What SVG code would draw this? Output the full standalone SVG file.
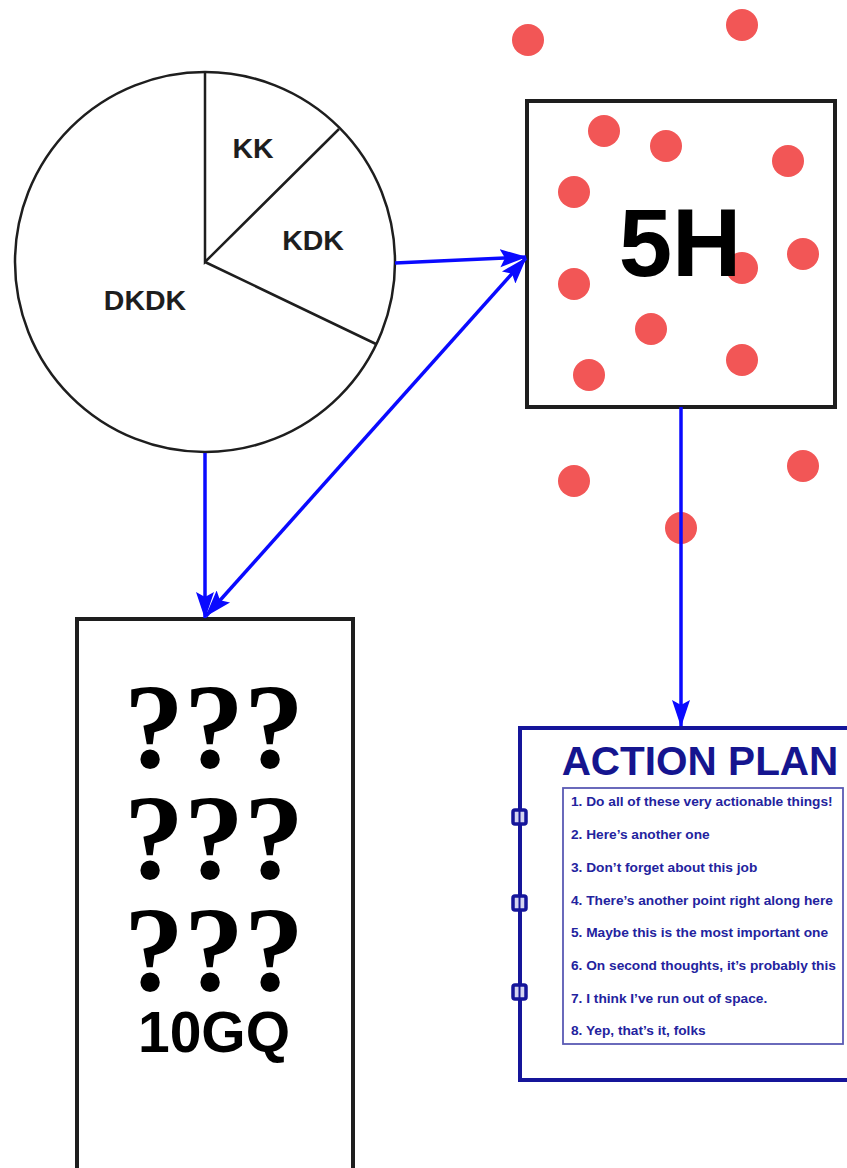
<svg xmlns="http://www.w3.org/2000/svg" width="847" height="1168" viewBox="0 0 847 1168">
  <defs>
    <style>
      .dot { fill: #f25656; }
      .pie { fill: #ffffff; stroke: #1e1e1e; stroke-width: 2.5; }
      .slice { stroke: #1e1e1e; stroke-width: 2.5; fill: none; }
      .lbl { font-family: "Liberation Sans", Arial, sans-serif; font-weight: bold; fill: #1e1e1e; text-anchor: middle; }
      .box { fill: #ffffff; stroke: #1e1e1e; stroke-width: 4; }
      .conn { stroke: #0a0aff; stroke-width: 3.5; fill: none; }
      .q { font-family: "Liberation Serif", "Times New Roman", serif; font-weight: bold; font-size: 120px; fill: #000000; }
      .item { font-family: "Liberation Sans", Arial, sans-serif; font-weight: bold; font-size: 13.7px; fill: #23239e; }
    </style>
    <marker id="arrowEnd" markerUnits="userSpaceOnUse" markerWidth="28" markerHeight="22" viewBox="0 0 28 22" refX="26" refY="11" orient="auto">
      <path d="M0,2 L27,11 L0,20 L5,11 Z" fill="#0a0aff"/>
    </marker>
    <marker id="arrowStart" markerUnits="userSpaceOnUse" markerWidth="28" markerHeight="22" viewBox="0 0 28 22" refX="2" refY="11" orient="auto">
      <path d="M28,2 L1,11 L28,20 L23,11 Z" fill="#0a0aff"/>
    </marker>
  </defs>
  <rect x="0" y="0" width="847" height="1168" fill="#ffffff"/>

  <g id="dots">
    <circle class="dot" cx="528" cy="40" r="16"/>
    <circle class="dot" cx="742" cy="25" r="16"/>
    <circle class="dot" cx="604" cy="131" r="16"/>
    <circle class="dot" cx="666" cy="146" r="16"/>
    <circle class="dot" cx="788" cy="161" r="16"/>
    <circle class="dot" cx="574" cy="192" r="16"/>
    <circle class="dot" cx="803" cy="254" r="16"/>
    <circle class="dot" cx="742" cy="268" r="16"/>
    <circle class="dot" cx="574" cy="284" r="16"/>
    <circle class="dot" cx="651" cy="329" r="16"/>
    <circle class="dot" cx="742" cy="360" r="16"/>
    <circle class="dot" cx="589" cy="375" r="16"/>
    <circle class="dot" cx="574" cy="481" r="16"/>
    <circle class="dot" cx="803" cy="466" r="16"/>
    <circle class="dot" cx="681" cy="528" r="16"/>
  </g>

  <g id="pie">
    <circle class="pie" cx="205" cy="262" r="190"/>
    <path class="slice" d="M205,72 L205,262 L339,129 M205,262 L376,344"/>
    <text class="lbl" x="253" y="158" font-size="28.5">KK</text>
    <text class="lbl" x="313" y="250" font-size="28.5">KDK</text>
    <text class="lbl" x="145" y="310" font-size="28.5">DKDK</text>
  </g>

  <g id="box5H">
    <rect x="527" y="101" width="308" height="306" fill="none" stroke="#1e1e1e" stroke-width="4"/>
    <text class="lbl" x="680" y="276" font-size="96" style="fill:#000">5H</text>
  </g>

  <g id="box10GQ">
    <rect class="box" x="77" y="619" width="276" height="600"/>
    <text text-anchor="middle"><tspan class="q" x="214" y="767">???</tspan><tspan class="q" x="214" y="878">???</tspan><tspan class="q" x="214" y="990">???</tspan><tspan x="214" y="1052" font-family="'Liberation Sans', Arial, sans-serif" font-weight="bold" font-size="57" fill="#000">10GQ</tspan></text>
  </g>

  <g id="actionPlan">
    <rect x="520" y="728" width="360" height="352" fill="#ffffff" stroke="#15159a" stroke-width="4"/>
    <text x="700" y="775" font-family="'Liberation Sans', Arial, sans-serif" font-weight="bold" font-size="40.5" fill="#15158f" text-anchor="middle">ACTION PLAN</text>
    <rect x="563" y="788" width="280" height="256" fill="none" stroke="#5a5ab4" stroke-width="1.8"/>
    <text class="item" x="571" y="806">1. Do all of these very actionable things!</text>
    <text class="item" x="571" y="839">2. Here’s another one</text>
    <text class="item" x="571" y="872">3. Don’t forget about this job</text>
    <text class="item" x="571" y="905">4. There’s another point right along here</text>
    <text class="item" x="571" y="937">5. Maybe this is the most important one</text>
    <text class="item" x="571" y="970">6. On second thoughts, it’s probably this</text>
    <text class="item" x="571" y="1003">7. I think I’ve run out of space.</text>
    <text class="item" x="571" y="1035">8. Yep, that’s it, folks</text>
    <g fill="#d4d4f0" stroke="#15159a" stroke-width="3.5">
      <rect x="513" y="810" width="13" height="14" rx="2"/>
      <rect x="513" y="896" width="13" height="14" rx="2"/>
      <rect x="513" y="985" width="13" height="14" rx="2"/>
    </g>
    <g stroke="#15159a" stroke-width="2">
      <line x1="519.5" y1="810" x2="519.5" y2="824"/>
      <line x1="519.5" y1="896" x2="519.5" y2="910"/>
      <line x1="519.5" y1="985" x2="519.5" y2="999"/>
    </g>
  </g>

  <g id="connectors">
    <line class="conn" x1="395" y1="263" x2="526" y2="257" marker-end="url(#arrowEnd)"/>
    <line class="conn" x1="206" y1="616" x2="526" y2="258" marker-start="url(#arrowStart)" marker-end="url(#arrowEnd)"/>
    <line class="conn" x1="205" y1="453" x2="205" y2="618" marker-end="url(#arrowEnd)"/>
    <line class="conn" x1="681" y1="407" x2="681" y2="726" marker-end="url(#arrowEnd)"/>
  </g>
</svg>
